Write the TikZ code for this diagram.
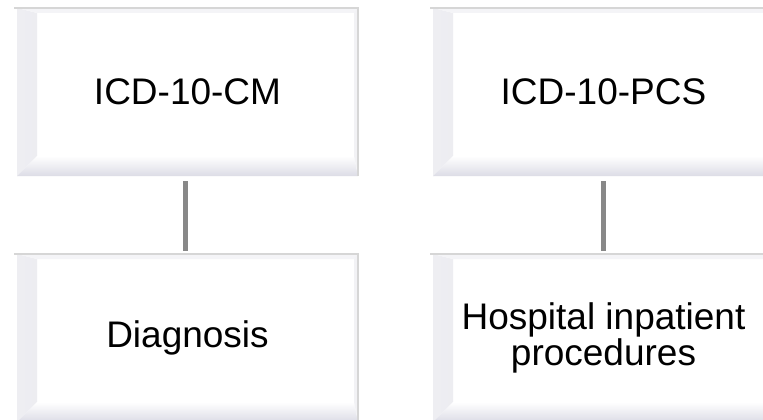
\documentclass[tikz,border=0pt]{standalone}
\usepackage{fontspec}
\setmainfont{Liberation Sans}
\begin{document}
\begin{tikzpicture}[x=1pt,y=-1pt,
  bevelbox/.style={rectangle, inner sep=0pt, outer sep=0pt,
    minimum width=341pt, minimum height=168pt, fill=white,
    align=center, text=black,
    font=\fontsize{37}{36}\selectfont,
    path picture={
      % left bevel
      \shade[left color=bevO, right color=white, middle color=bevL]
        (path picture bounding box.south west) --
        (path picture bounding box.north west) --
        ([xshift=20pt,yshift=-5pt]path picture bounding box.north west) --
        ([xshift=20pt,yshift=20pt]path picture bounding box.south west) -- cycle;
      % bottom bevel
      \shade[top color=white, bottom color=bevB]
        (path picture bounding box.south west) --
        ([xshift=20pt,yshift=20pt]path picture bounding box.south west) --
        ([xshift=-4pt,yshift=20pt]path picture bounding box.south east) --
        (path picture bounding box.south east) -- cycle;
      % top bevel
      \fill[bevT]
        (path picture bounding box.north west) --
        (path picture bounding box.north east) --
        ([xshift=-4pt,yshift=-5pt]path picture bounding box.north east) --
        ([xshift=20pt,yshift=-5pt]path picture bounding box.north west) -- cycle;
      % right bevel
      \fill[bevR]
        (path picture bounding box.north east) --
        (path picture bounding box.south east) --
        ([xshift=-4pt,yshift=20pt]path picture bounding box.south east) --
        ([xshift=-4pt,yshift=-5pt]path picture bounding box.north east) -- cycle;
    }},
  edgeline/.style={draw=lineG, line width=2pt},
  link/.style={draw=linkG, line width=5pt}
]
\definecolor{bevO}{HTML}{EEEEF2}
\definecolor{bevL}{HTML}{E2E2EC}
\definecolor{bevB}{HTML}{DCDCE6}
\definecolor{bevT}{HTML}{F4F4F7}
\definecolor{bevR}{HTML}{F2F2F5}
\definecolor{lineG}{HTML}{D6D6D6}
\definecolor{linkG}{HTML}{888888}
\useasboundingbox (0,0) rectangle (763,420);
\clip (0,0) rectangle (763,420);
\fill[white] (0,0) rectangle (763,420);

\node[bevelbox] (cm)  at (187.5,92)  {ICD-10-CM};
\node[bevelbox] (dx)  at (187.5,338) {Diagnosis};
\node[bevelbox] (pcs) at (603.5,92)  {ICD-10-PCS};
\node[bevelbox] (hip) at (603.5,338) {Hospital inpatient\\procedures};

\foreach \n in {cm,dx,pcs,hip}{
  \draw[edgeline] ([xshift=-3pt]\n.north west) -- (\n.north east) -- (\n.south east);
}

\draw[link] ([xshift=-2pt,yshift=-5pt]cm.south) -- ([xshift=-2pt,yshift=3pt]dx.north);
\draw[link] ([yshift=-5pt]pcs.south) -- ([yshift=3pt]hip.north);
\end{tikzpicture}
\end{document}
